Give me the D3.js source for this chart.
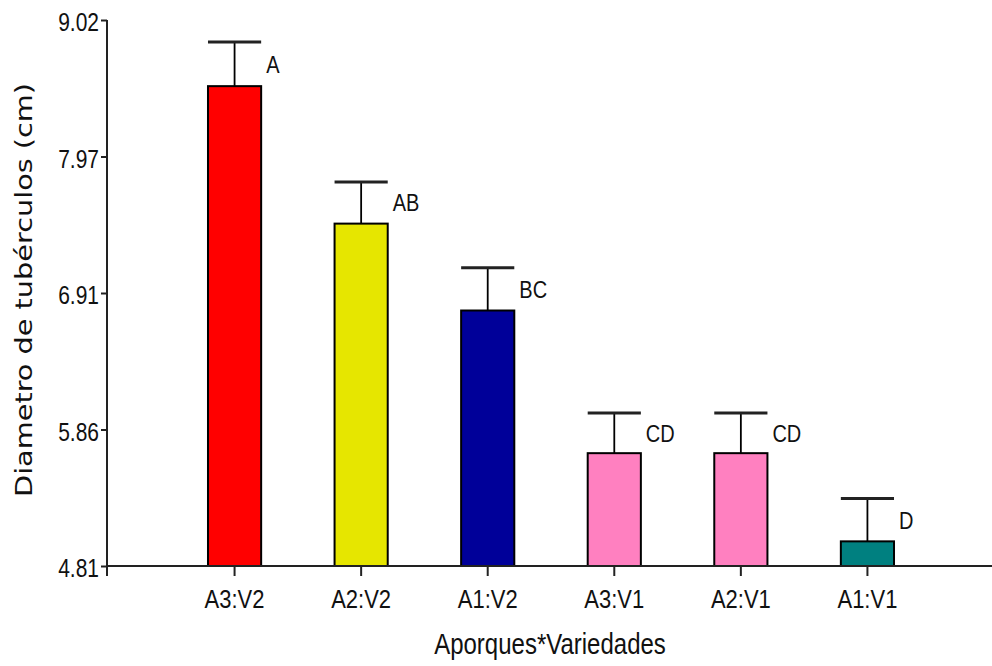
<!DOCTYPE html>
<html>
<head>
<meta charset="utf-8">
<script src="https://cdn.jsdelivr.net/npm/d3@7/dist/d3.min.js"></script>
<style>
  html, body { margin: 0; padding: 0; background: #ffffff; }
  svg { display: block; }
</style>
</head>
<body>
<div id="chart"></div>
<script>
// Tuber diameter by hilling level x variety (means, standard errors, Tukey groups)
const categories = ["A3:V2", "A2:V2", "A1:V2", "A3:V1", "A2:V1", "A1:V1"];
const means = [8.51, 7.45, 6.78, 5.68, 5.68, 5.00];
const stdErr = [0.34, 0.32, 0.33, 0.31, 0.31, 0.33];
const groupLetters = ["A", "AB", "BC", "CD", "CD", "D"];
const barColors = ["#ff0000", "#e6e600", "#000099", "#ff80c0", "#ff80c0", "#008080"];
const yTickValues = [4.81, 5.8625, 6.915, 7.9675, 9.02];
const yTickLabels = ["4.81", "5.86", "6.91", "7.97", "9.02"];
const xTitle = "Aporques*Variedades";
const yTitle = "Diametro de tubérculos (cm)";

const W = 992, H = 666;
const plotLeft = 107, plotRight = 993, plotTop = 20, plotBottom = 566;
const textStretch = 1.2;   // glyphs are drawn slightly tall
const ink = "#111111";
const tickFont = "'Liberation Sans', Arial, sans-serif";

const svg = d3.select("#chart").append("svg")
  .attr("width", W).attr("height", H);

const x = d3.scaleBand()
  .domain(categories)
  .range([plotLeft + 1, plotRight + 1])
  .paddingInner(0.58)
  .paddingOuter(0.79);

const y = d3.scaleLinear()
  .domain([yTickValues[0], yTickValues[yTickValues.length - 1]])
  .range([plotBottom, plotTop]);

const rows = categories.map((c, i) => ({
  cat: c, mean: means[i], se: stdErr[i], letter: groupLetters[i], color: barColors[i]
}));

// error bars (upper whisker only)
const err = svg.append("g");
err.selectAll("line.stem").data(rows).join("line")
  .attr("class", "stem")
  .attr("x1", d => x(d.cat) + x.bandwidth() / 2)
  .attr("x2", d => x(d.cat) + x.bandwidth() / 2)
  .attr("y1", d => y(d.mean))
  .attr("y2", d => y(d.mean + d.se))
  .attr("stroke", "#000").attr("stroke-width", 1.8);
err.selectAll("line.cap").data(rows).join("line")
  .attr("class", "cap")
  .attr("x1", d => x(d.cat))
  .attr("x2", d => x(d.cat) + x.bandwidth())
  .attr("y1", d => y(d.mean + d.se))
  .attr("y2", d => y(d.mean + d.se))
  .attr("stroke", "#222").attr("stroke-width", 3);

// bars
svg.append("g").selectAll("rect").data(rows).join("rect")
  .attr("x", d => x(d.cat))
  .attr("width", x.bandwidth())
  .attr("y", d => y(d.mean))
  .attr("height", d => y(y.domain()[0]) - y(d.mean))
  .attr("fill", d => d.color)
  .attr("stroke", "#000").attr("stroke-width", 2);

// group letters
svg.append("g").selectAll("text").data(rows).join("text")
  .attr("transform", d => {
    const mid = (y(d.mean) + y(d.mean + d.se)) / 2;
    return `translate(${x(d.cat) + x.bandwidth() + 5},${mid + 8.6}) scale(1,${textStretch})`;
  })
  .attr("font-family", tickFont)
  .attr("font-size", 20)
  .attr("fill", ink)
  .text(d => d.letter);

// y axis
const yAxis = svg.append("g")
  .attr("transform", `translate(${plotLeft},0)`)
  .call(d3.axisLeft(y)
    .tickValues(yTickValues)
    .tickFormat((d, i) => yTickLabels[i])
    .tickSize(6)
    .tickSizeOuter(0));
yAxis.select(".domain").remove();
yAxis.selectAll(".tick line").attr("stroke", "#222").attr("stroke-width", 2);
yAxis.selectAll(".tick text")
  .attr("x", null).attr("dy", null)
  .attr("text-anchor", "end")
  .attr("transform", `translate(-8,10.5) scale(1,${textStretch})`)
  .attr("font-family", tickFont)
  .attr("font-size", 21)
  .attr("fill", ink);

// x axis
const xAxis = svg.append("g")
  .attr("transform", `translate(0,${plotBottom})`)
  .call(d3.axisBottom(x).tickSize(10).tickSizeOuter(0));
xAxis.select(".domain").remove();
xAxis.selectAll(".tick line").attr("stroke", "#222").attr("stroke-width", 2);
xAxis.selectAll(".tick text")
  .attr("y", null).attr("dy", null)
  .attr("transform", `translate(0,42) scale(1,${textStretch})`)
  .attr("font-family", tickFont)
  .attr("font-size", 22)
  .attr("fill", ink);

// axis lines
svg.append("line")
  .attr("x1", plotLeft).attr("x2", plotLeft)
  .attr("y1", plotTop).attr("y2", plotBottom + 10)
  .attr("stroke", "#222").attr("stroke-width", 2);
svg.append("line")
  .attr("x1", plotLeft).attr("x2", W)
  .attr("y1", plotBottom).attr("y2", plotBottom)
  .attr("stroke", "#222").attr("stroke-width", 2);

// axis titles
svg.append("text")
  .attr("transform", `translate(${(plotLeft + plotRight) / 2},654) scale(1,${textStretch})`)
  .attr("text-anchor", "middle")
  .attr("font-family", tickFont)
  .attr("font-size", 24)
  .attr("fill", ink)
  .text(xTitle);

svg.append("text")
  .attr("transform", `translate(32,290) rotate(-90) scale(1.25,1)`)
  .attr("text-anchor", "middle")
  .attr("font-family", "'DejaVu Sans', Verdana, sans-serif")
  .attr("font-size", 23)
  .attr("fill", ink)
  .text(yTitle);
</script>
</body>
</html>
